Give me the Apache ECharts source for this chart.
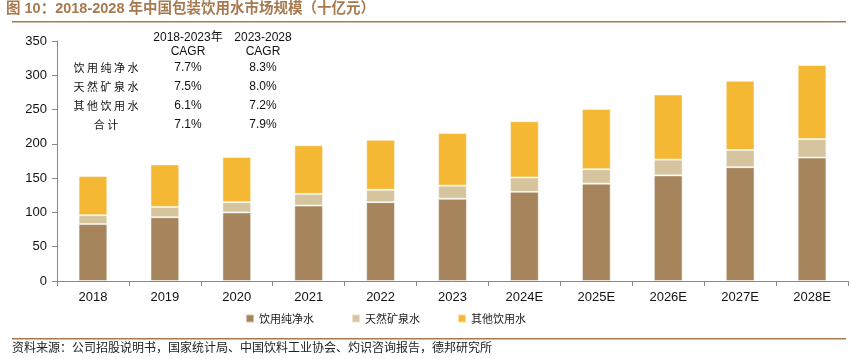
<!DOCTYPE html>
<html><head><meta charset="utf-8">
<script src="https://cdn.jsdelivr.net/npm/echarts@6/dist/echarts.min.js"></script>
<style>html,body{margin:0;padding:0;background:#fff}#c{width:851px;height:359px}</style>
</head><body><div id="c"></div>
<script>
const categories = ['2018','2019','2020','2021','2022','2023','2024E','2025E','2026E','2027E','2028E'];
const purified = [83,93,100,110,115,120,130,142,154,166,180];
const mineral = [13,15,15,17,18,19,21,21,23,25,27];
const other = [57,62,66,71,73,77,82,88,95,101,108];
const seriesNames = ['饮用纯净水','天然矿泉水','其他饮用水'];
const cagrHeaders = [['2018-2023年','CAGR'],['2023-2028','CAGR']];
const cagrRows = ['饮用纯净水','天然矿泉水','其他饮用水','合计'];
const cagr1 = ['7.7%','7.5%','6.1%','7.1%'];
const cagr2 = ['8.3%','8.0%','7.2%','7.9%'];
const yTicks = {min:0,max:350,interval:50};

const colors = ['#A6845C','#D5C49D','#F5B834'];
const cjk = '"Noto Sans CJK SC", sans-serif';
const latin = '"Liberation Sans", Arial, sans-serif';

const graphics = [
  {type:'text', left:6, top:2, style:{text:'图 10：2018-2028 年中国包装饮用水市场规模（十亿元）', font:'bold 14.5px '+latin+', "Noto Sans CJK SC"', fill:'#A8794E'}},
  {type:'rect', shape:{x:12,y:21,width:834,height:1.5}, style:{fill:'#A8794E'}},
  {type:'rect', shape:{x:12,y:338,width:834,height:1.5}, style:{fill:'#A8794E'}},
  {type:'text', left:12, top:341, style:{text:'资料来源：公司招股说明书，国家统计局、中国饮料工业协会、灼识咨询报告，德邦研究所', font:'12px '+cjk, fill:'#222'}}
];
const colX = [188, 263];
cagrHeaders.forEach((h,i)=>{
  graphics.push({type:'text', x:colX[i], y:32, style:{text:h[0], font:'12px '+latin+', "Noto Sans CJK SC"', fill:'#111', align:'center'}});
  graphics.push({type:'text', x:colX[i], y:46, style:{text:h[1], font:'12px '+latin, fill:'#111', align:'center'}});
});
cagrRows.forEach((r,i)=>{
  const y = 62 + i*19;
  graphics.push({type:'text', x:106, y:y, style:{text:r.split('').join(' '), font:'11px '+cjk, fill:'#111', align:'center'}});
  graphics.push({type:'text', x:colX[0], y:y, style:{text:cagr1[i], font:'12px '+latin, fill:'#111', align:'center'}});
  graphics.push({type:'text', x:colX[1], y:y, style:{text:cagr2[i], font:'12px '+latin, fill:'#111', align:'center'}});
});

const chart = echarts.init(document.getElementById('c'));
chart.setOption({
  animation:false,
  color:colors,
  grid:{left:57,right:3,top:41,bottom:78},
  legend:{
    data:seriesNames, bottom:30, left:240, itemWidth:8, itemHeight:8, itemGap:37,
    icon:'rect', textStyle:{fontFamily:cjk,fontSize:11,color:'#222'}
  },
  xAxis:{type:'category', data:categories,
    axisLine:{lineStyle:{color:'#888'}},
    axisTick:{show:true, alignWithLabel:false, length:5, lineStyle:{color:'#888'}},
    axisLabel:{fontFamily:latin, fontSize:13, color:'#111', margin:10}
  },
  yAxis:{type:'value', min:yTicks.min, max:yTicks.max, interval:yTicks.interval,
    axisLine:{show:true, lineStyle:{color:'#888'}},
    axisTick:{show:true, length:5, lineStyle:{color:'#888'}},
    splitLine:{show:false},
    axisLabel:{fontFamily:latin, fontSize:13, color:'#111', margin:10}
  },
  series:[
    {name:seriesNames[0], type:'bar', stack:'a', data:purified, barWidth:'40%', itemStyle:{borderColor:'rgba(255,255,255,0.5)',borderWidth:1}},
    {name:seriesNames[1], type:'bar', stack:'a', data:mineral, itemStyle:{borderColor:'rgba(255,255,255,0.5)',borderWidth:1}},
    {name:seriesNames[2], type:'bar', stack:'a', data:other, itemStyle:{borderColor:'rgba(255,255,255,0.5)',borderWidth:1}}
  ],
  graphic:graphics
});
</script></body></html>
